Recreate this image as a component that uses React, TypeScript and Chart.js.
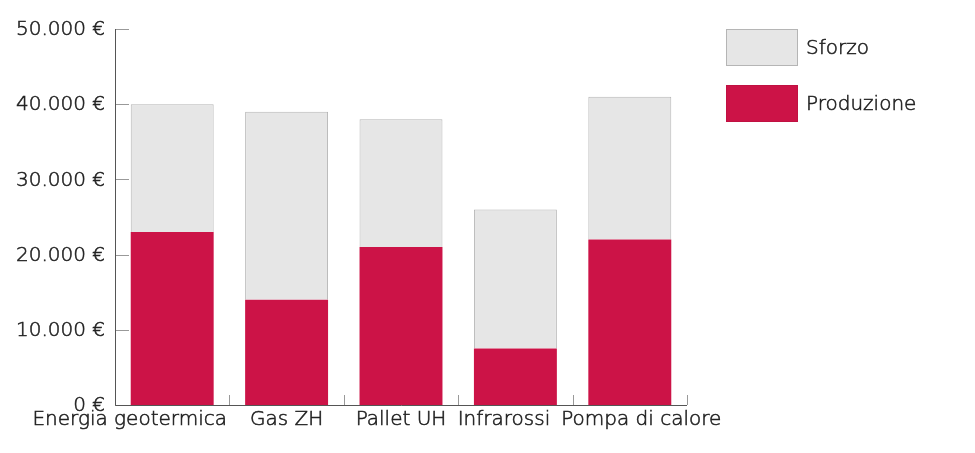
import React, { useEffect, useRef } from "react";
import { Chart, registerables } from "chart.js";

Chart.register(...registerables);

const categories = ["Energia geotermica", "Gas ZH", "Pallet UH", "Infrarossi", "Pompa di calore"];
const produzione = [23000, 14000, 21000, 7500, 22000];
const sforzo = [17000, 25000, 17000, 18500, 19000];
const yMax = 50000;
const yStep = 10000;

const FONT = "'DejaVu Sans', sans-serif";
const FWEIGHT = 200;
const FSIZE = 20;
const TEXT = "#222222";

const fmt = (v: number) =>
  (v === 0 ? "0" : v.toLocaleString("de-DE")) + " €";

const drawText = (ctx: any, s: string, x: number, y: number) => {
  ctx.fillText(s, x, y);
  ctx.strokeText(s, x, y);
};

const setFont = (ctx: any) => {
  ctx.font = `${FWEIGHT} ${FSIZE}px ${FONT}`;
  ctx.fillStyle = TEXT;
  ctx.strokeStyle = TEXT;
  ctx.lineWidth = 0.55;
};

const axisDecor = {
  id: "axisDecor",
  afterDatasetsDraw(chart: any) {
    const { ctx, chartArea, scales } = chart;
    const x = scales.x;
    const y = scales.y;
    ctx.save();
    ctx.strokeStyle = "#999999";
    ctx.lineWidth = 1;
    y.ticks.forEach((t: any) => {
      const py = Math.round(y.getPixelForValue(t.value)) + 0.5;
      ctx.beginPath();
      ctx.moveTo(chartArea.left, py);
      ctx.lineTo(chartArea.left + 14, py);
      ctx.stroke();
    });
    const n = categories.length;
    for (let i = 0; i < n; i++) {
      const px =
        i < n - 1
          ? (x.getPixelForValue(i) + x.getPixelForValue(i + 1)) / 2
          : chartArea.right;
      const rx = Math.round(px) + 0.5;
      ctx.beginPath();
      ctx.moveTo(rx, chartArea.bottom);
      ctx.lineTo(rx, chartArea.bottom - 10);
      ctx.stroke();
    }
    ctx.strokeStyle = "#555555";
    ctx.beginPath();
    ctx.moveTo(Math.round(chartArea.left) + 0.5, chartArea.top);
    ctx.lineTo(Math.round(chartArea.left) + 0.5, Math.round(chartArea.bottom) + 0.5);
    ctx.lineTo(chartArea.right, Math.round(chartArea.bottom) + 0.5);
    ctx.stroke();

    // y tick labels
    setFont(ctx);
    ctx.textAlign = "right";
    ctx.textBaseline = "middle";
    y.ticks.forEach((t: any) => {
      drawText(ctx, fmt(t.value), chartArea.left - 10, y.getPixelForValue(t.value) + 1);
    });

    // category labels: left side pushed outward, right side overlaps shared
    ctx.textAlign = "center";
    ctx.textBaseline = "top";
    const w = categories.map((c) => ctx.measureText(c).width);
    const c = categories.map((_, i) => x.getPixelForValue(i));
    const mid = Math.floor(n / 2);
    const gapL = 23;
    const gapR = 11;
    for (let i = mid - 1; i >= 0; i--) {
      const maxRight = c[i + 1] - w[i + 1] / 2 - gapL;
      if (c[i] + w[i] / 2 > maxRight) c[i] = maxRight - w[i] / 2;
    }
    for (let i = mid + 1; i < n; i++) {
      const overlap = c[i - 1] + w[i - 1] / 2 + gapR - (c[i] - w[i] / 2);
      if (overlap > 0) {
        if (i - 1 > mid) {
          c[i - 1] -= overlap / 2;
          c[i] += overlap / 2;
        } else {
          c[i] += overlap;
        }
      }
    }
    categories.forEach((label, i) => {
      drawText(ctx, label, c[i], chartArea.bottom + 5);
    });
    ctx.restore();
  },
};

const sideLegend = {
  id: "sideLegend",
  afterDraw(chart: any) {
    const { ctx, chartArea } = chart;
    const ds = [...chart.data.datasets].reverse();
    ctx.save();
    ds.forEach((d: any, i: number) => {
      const bx = chartArea.right + 39;
      const by = chartArea.top + i * 56;
      ctx.fillStyle = d.backgroundColor;
      ctx.fillRect(bx, by, 72, 37);
      ctx.strokeStyle = d.borderColor;
      ctx.lineWidth = 1;
      ctx.strokeRect(bx + 0.5, by + 0.5, 71, 36);
      setFont(ctx);
      ctx.textBaseline = "middle";
      ctx.textAlign = "left";
      drawText(ctx, d.label, bx + 80, by + 20);
    });
    ctx.restore();
  },
};

export default function App() {
  const ref = useRef<HTMLCanvasElement>(null);
  useEffect(() => {
    document.body.style.margin = "0";
    const chart = new Chart(ref.current!, {
      type: "bar",
      data: {
        labels: categories,
        datasets: [
          {
            label: "Produzione",
            data: produzione,
            backgroundColor: "#cc1347",
            borderColor: "#c01142",
            borderWidth: 0,
            categoryPercentage: 1,
            barPercentage: 0.725,
          },
          {
            label: "Sforzo",
            data: sforzo,
            backgroundColor: "#e6e6e6",
            borderColor: "#b5b5b5",
            borderWidth: 1,
            categoryPercentage: 1,
            barPercentage: 0.725,
          },
        ],
      },
      options: {
        animation: false,
        responsive: true,
        maintainAspectRatio: false,
        layout: { padding: { top: 29, right: 288, bottom: 20, left: 0 } },
        plugins: { legend: { display: false }, tooltip: { enabled: false } },
        scales: {
          x: {
            stacked: true,
            grid: { display: false, drawTicks: false },
            border: { display: false },
            ticks: {
              color: "rgba(0,0,0,0)",
              font: { family: FONT, size: FSIZE, weight: FWEIGHT },
              padding: 2,
              maxRotation: 0,
              autoSkip: false,
            },
          },
          y: {
            stacked: true,
            min: 0,
            max: yMax,
            grid: { display: false, drawTicks: false },
            border: { display: false },
            afterFit: (scale: any) => {
              scale.width = 115;
            },
            ticks: {
              stepSize: yStep,
              color: "rgba(0,0,0,0)",
              font: { family: FONT, size: FSIZE, weight: FWEIGHT },
              padding: 10,
              callback: (v: any) => fmt(Number(v)),
            },
          },
        },
      },
      plugins: [axisDecor, sideLegend],
    });
    return () => chart.destroy();
  }, []);
  return (
    <div style={{ position: "relative", width: 975, height: 453 }}>
      <canvas ref={ref} />
    </div>
  );
}
